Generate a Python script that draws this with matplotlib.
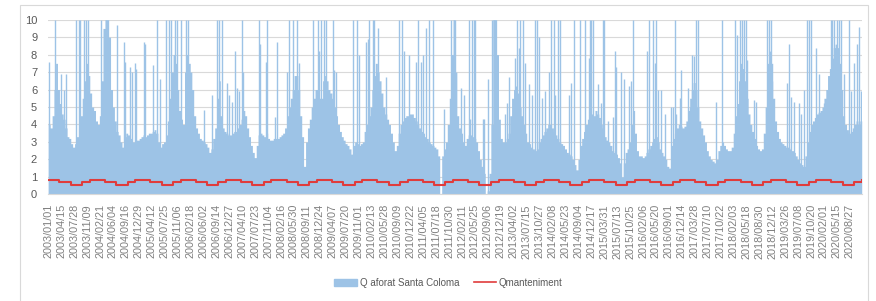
import pandas as pd
import matplotlib
matplotlib.use("Agg")
import matplotlib.pyplot as plt
import matplotlib.dates as mdates
from matplotlib.patches import Patch, Rectangle
from matplotlib.lines import Line2D

plt.rcParams["font.family"] = ["Liberation Sans", "DejaVu Sans"]

# flow level per half month (1st-15th, 16th-end)
q2003 = [4.0, 3.8, 4.5, 6.0, 7.5, 6.0, 5.2, 4.6, 4.3, 3.8, 3.3, 3.2, 2.9, 2.7, 2.9, 3.3, 3.8, 4.5, 5.5, 6.5, 7.5, 6.8, 5.8, 5.0]
q2004 = [4.8, 4.2, 4.0, 4.5, 6.5, 9.5, 10, 10, 9.0, 6.0, 5.0, 4.2, 3.6, 3.4, 3.0, 2.7, 3.3, 3.5, 3.4, 3.2, 3.0, 3.0, 3.1, 3.1]
q2005 = [3.2, 3.3, 3.4, 3.3, 3.4, 3.5, 3.5, 3.6, 3.7, 3.5, 3.0, 2.7, 2.9, 3.0, 3.4, 4.2, 5.5, 7.0, 8.0, 7.5, 6.0, 4.8, 4.3, 4.0]
q2006 = [7.0, 8.0, 7.5, 7.0, 6.0, 4.5, 3.8, 3.5, 3.2, 3.1, 3.0, 2.9, 2.7, 2.4, 2.6, 3.2, 3.8, 5.5, 6.5, 4.5, 3.8, 3.6, 3.5, 3.4]
q2007 = [3.4, 3.5, 3.6, 3.6, 3.8, 4.0, 4.3, 4.8, 4.5, 3.8, 3.3, 2.8, 2.4, 2.1, 2.8, 3.4, 3.5, 3.4, 3.3, 3.5, 3.2, 3.1, 3.1, 3.2]
q2008 = [3.2, 3.2, 3.3, 3.4, 3.5, 3.8, 4.5, 5.0, 5.5, 6.0, 6.8, 6.8, 6.0, 4.5, 3.3, 1.6, 3.0, 3.8, 4.3, 5.0, 5.5, 6.0, 6.0, 5.5]
q2009 = [5.5, 6.5, 6.8, 6.5, 6.0, 5.8, 5.5, 5.0, 4.5, 4.0, 3.6, 3.3, 3.1, 2.9, 2.8, 2.6, 2.3, 2.8, 3.0, 2.9, 2.8, 2.9, 3.0, 3.6]
q2010 = [4.0, 4.5, 5.0, 6.0, 6.8, 7.5, 7.0, 6.5, 5.8, 5.0, 4.6, 4.3, 4.0, 3.5, 3.0, 2.5, 2.8, 3.5, 4.0, 4.2, 4.4, 4.5, 4.5, 4.6]
q2011 = [4.6, 4.4, 4.2, 4.0, 3.8, 3.6, 3.5, 3.3, 3.2, 3.0, 2.9, 2.8, 2.7, 2.6, 2.2, 0.0, 2.2, 2.6, 3.0, 4.0, 5.5, 8.0, 10, 7.0]
q2012 = [4.5, 3.8, 3.5, 3.0, 2.8, 3.2, 3.4, 3.4, 3.3, 3.2, 3.0, 2.5, 2.0, 1.6, 1.2, 0.0, 0.2, 1.2, 4.0, 10, 10, 8.0, 4.3, 3.2]
q2013 = [3.0, 3.0, 3.2, 3.5, 4.5, 5.5, 6.0, 6.2, 5.8, 5.0, 4.5, 4.0, 3.5, 3.0, 2.9, 2.7, 2.6, 2.5, 2.6, 3.0, 3.2, 3.4, 3.6, 3.8]
q2014 = [4.0, 4.0, 3.8, 3.6, 3.4, 3.2, 3.0, 2.9, 2.8, 2.6, 2.4, 2.3, 2.2, 2.0, 1.7, 1.4, 2.0, 2.8, 3.2, 3.6, 4.0, 4.3, 4.5, 4.6]
q2015 = [4.5, 4.8, 4.6, 4.4, 4.0, 3.8, 3.3, 3.1, 3.0, 2.8, 2.5, 2.4, 2.3, 2.1, 1.8, 1.0, 1.8, 2.4, 2.6, 3.0, 4.0, 4.8, 3.5, 2.5]
q2016 = [2.2, 2.2, 2.1, 2.2, 2.4, 2.6, 2.8, 3.0, 3.2, 3.3, 3.0, 2.6, 2.4, 2.2, 2.0, 1.6, 1.5, 2.8, 3.2, 3.5, 3.8, 4.0, 3.9, 3.8]
q2017 = [3.9, 4.2, 4.8, 5.5, 6.0, 6.4, 6.0, 5.0, 4.2, 3.8, 3.4, 3.0, 2.5, 2.2, 2.0, 1.9, 1.8, 2.0, 2.5, 2.8, 3.0, 2.8, 2.6, 2.5]
q2018 = [2.5, 2.7, 3.5, 4.5, 5.2, 6.5, 7.5, 7.2, 6.5, 5.5, 4.6, 4.0, 3.6, 3.2, 2.8, 2.6, 2.5, 2.6, 3.5, 5.0, 7.5, 8.2, 7.5, 5.5]
q2019 = [4.2, 3.6, 3.2, 3.0, 2.9, 2.8, 2.7, 2.7, 2.6, 2.5, 2.4, 2.2, 2.0, 1.8, 1.7, 1.6, 2.2, 3.0, 3.6, 4.0, 4.2, 4.4, 4.6, 4.7]
q2020 = [4.8, 5.0, 5.5, 6.0, 6.8, 7.2, 7.8, 8.4, 8.6, 8.4, 7.5, 6.0, 4.5, 4.0, 3.7, 3.5, 3.6, 3.8, 4.0, 4.2, 4.0, 4.2]

years = list(range(2003, 2021))
yearly = [q2003, q2004, q2005, q2006, q2007, q2008, q2009, q2010, q2011,
          q2012, q2013, q2014, q2015, q2016, q2017, q2018, q2019, q2020]
last_day = "2020-12-01"

# single-day peaks (values above 10 are cut at the top of the axis)
spike_dates = [
    "2003-01-06", "2003-02-24", "2003-04-10", "2003-05-07", "2003-05-21", "2003-08-15", "2003-09-02",
    "2003-09-13", "2003-10-15", "2003-10-29", "2003-11-19",
    "2004-03-03", "2004-07-09", "2004-09-01", "2004-09-09", "2004-10-19", "2004-11-02", "2004-11-28",
    "2004-12-07",
    "2005-02-09", "2005-02-17", "2005-04-25", "2005-05-22", "2005-06-18", "2005-08-08", "2005-08-29",
    "2005-09-17", "2005-10-14", "2005-11-04", "2005-12-01",
    "2006-01-13", "2006-02-01", "2006-06-07", "2006-08-13", "2006-09-16", "2006-10-08", "2006-10-27",
    "2006-12-06", "2006-12-27",
    "2007-01-15", "2007-02-11", "2007-03-02", "2007-03-18", "2007-04-06", "2007-04-19", "2007-08-26",
    "2007-08-31", "2007-10-18", "2007-10-29", "2007-12-30",
    "2008-01-12", "2008-04-02", "2008-04-23", "2008-05-25", "2008-06-21", "2008-07-07", "2008-10-31",
    "2008-12-13", "2008-12-20",
    "2009-01-03", "2009-01-30", "2009-02-12", "2009-04-07", "2009-04-20", "2009-05-04", "2009-09-20",
    "2009-10-17", "2009-11-02", "2009-12-31",
    "2010-01-13", "2010-01-27", "2010-02-23", "2010-03-08", "2010-04-04", "2010-06-10", "2010-09-25",
    "2010-10-17", "2010-11-04", "2010-12-15",
    "2011-02-06", "2011-02-20", "2011-03-18", "2011-04-01", "2011-04-28", "2011-05-25", "2011-06-20",
    "2011-09-23", "2011-11-16", "2011-12-13",
    "2012-02-05", "2012-02-24", "2012-04-04", "2012-04-17", "2012-05-01", "2012-05-14", "2012-05-25",
    "2012-07-26", "2012-08-08", "2012-09-06", "2012-10-09", "2012-10-22",
    "2013-01-25", "2013-02-07", "2013-02-21", "2013-04-15", "2013-04-26", "2013-05-12", "2013-05-26",
    "2013-06-16", "2013-06-29", "2013-08-01", "2013-08-27", "2013-09-21", "2013-10-07", "2013-10-26",
    "2013-11-16", "2013-12-13",
    "2014-01-09", "2014-01-30", "2014-02-18", "2014-03-03", "2014-03-25", "2014-04-12", "2014-06-18",
    "2014-07-10", "2014-07-29", "2014-09-20", "2014-10-31", "2014-11-26", "2014-12-04", "2014-12-18",
    "2014-12-31",
    "2015-02-09", "2015-03-07", "2015-03-21", "2015-03-29", "2015-04-30", "2015-06-09", "2015-06-22",
    "2015-07-06", "2015-08-15", "2015-09-06", "2015-10-16", "2015-10-29", "2015-11-17",
    "2016-03-11", "2016-03-22", "2016-04-26", "2016-05-09", "2016-05-23", "2016-06-05", "2016-07-02",
    "2016-08-03", "2016-09-20", "2016-10-04", "2016-10-17", "2016-10-31", "2016-11-26", "2016-12-10",
    "2017-02-02", "2017-02-16", "2017-03-07", "2017-03-23", "2017-04-11", "2017-04-24", "2017-09-19",
    "2017-10-31",
    "2018-02-15", "2018-03-01", "2018-03-28", "2018-04-16", "2018-04-29", "2018-05-12", "2018-05-26",
    "2018-07-18", "2018-08-01", "2018-10-28", "2018-11-16", "2018-11-29", "2018-12-13",
    "2019-04-13", "2019-04-25", "2019-05-08", "2019-06-04", "2019-07-14", "2019-07-28", "2019-08-24",
    "2019-09-14", "2019-10-03", "2019-10-22", "2019-11-26", "2019-12-22",
    "2020-02-02", "2020-03-26", "2020-04-09", "2020-04-22", "2020-05-19", "2020-06-01", "2020-06-20",
    "2020-07-12", "2020-08-21", "2020-09-03", "2020-09-30", "2020-10-27", "2020-11-09", "2020-11-23",
]
spike_vals = [
    7.6, 10, 6.9, 6.0, 6.9, 10, 10, 10, 10, 10, 10,
    10, 9.7, 8.7, 7.6, 7.3, 7.0, 7.5, 7.2,
    8.7, 8.6, 7.4, 10, 6.6, 10, 10, 10, 10, 10, 10,
    10, 10, 4.8, 5.7, 10, 10, 10, 6.4, 5.7,
    5.3, 8.2, 6.1, 5.9, 10, 7.0, 10, 8.6, 7.6, 10, 4.4,
    8.7, 7.0, 10, 10, 10, 7.5, 10, 10, 8.2,
    10, 10, 10, 10, 7.1, 7.0, 10, 10, 8.0, 8.7,
    8.9, 10, 10, 10, 9.5, 6.7, 10, 10, 8.2, 8.0,
    7.6, 10, 7.6, 8.0, 9.5, 10, 10, 4.9, 10, 10,
    6.1, 5.7, 10, 4.3, 10, 10, 10, 4.3, 4.3, 6.6, 10, 10,
    4.6, 5.2, 6.7, 7.8, 10, 8.4, 10, 10, 7.5, 6.3, 5.7, 10, 10, 9.0, 5.5, 5.9,
    7.0, 10, 10, 5.7, 10, 10, 5.7, 6.4, 10, 10, 10, 7.8, 10, 10, 10,
    6.3, 5.2, 10, 10, 4.2, 4.4, 8.2, 7.3, 7.0, 6.6, 6.2, 6.5, 10,
    8.2, 10, 10, 7.5, 10, 6.0, 6.0, 4.6, 5.0, 5.0, 10, 4.6, 5.5, 7.1,
    6.1, 5.0, 8.0, 7.9, 10, 10, 5.3, 10,
    10, 9.1, 10, 10, 10, 10, 7.7, 5.4, 5.3, 10, 10, 10, 6.5,
    6.4, 8.6, 5.6, 5.3, 5.2, 4.6, 6.0, 10, 10, 10, 8.4, 6.9,
    5.2, 10, 10, 10, 10, 10, 10, 6.9, 10, 5.9, 7.5, 8.6, 9.6, 5.9,
]

# Qmanteniment by calendar month
qm_month = [0.84, 0.84, 0.84, 0.68, 0.68, 0.68, 0.56, 0.56, 0.56, 0.68, 0.68, 0.84]

# build half-month steps
starts, vals = [], []
for yr, qs in zip(years, yearly):
    for i, v in enumerate(qs):
        starts.append(pd.Timestamp(yr, i // 2 + 1, 1 if i % 2 == 0 else 16))
        vals.append(v)
xb = mdates.date2num(starts + [pd.Timestamp(last_day)])
yb = vals + [vals[-1]]

months = pd.date_range("2003-01-01", last_day, freq="MS")
xm = mdates.date2num(months)
ym = [qm_month[m.month - 1] for m in months]

xs = mdates.date2num(pd.to_datetime(spike_dates)) + 0.5

fig = plt.figure(figsize=(8.76, 3.01), dpi=100)
ax = fig.add_axes([0.0551, 0.3545, 0.9286, 0.5801])

blue = "#9dc3e6"
red = "#e03c3c"
ax.fill_between(xb, yb, step="post", color=blue, lw=0)
ax.vlines(xs, 0, spike_vals, color=blue, lw=1.0)
ax.step(xm, ym, where="post", color=red, lw=1.5)

x0 = mdates.date2num(pd.Timestamp("2003-01-01"))
ax.set_xlim(x0, mdates.date2num(pd.Timestamp(last_day)))
ax.set_ylim(0, 10)
ax.set_yticks(range(11))

ticks = pd.date_range("2003-01-01", "2020-08-27", freq="104D")
ax.set_xticks(mdates.date2num(ticks) + 0.5)
ax.set_xticklabels([t.strftime("%Y/%m/%d") for t in ticks], rotation=90,
                   fontsize=7.8, color="#808080")
ax.tick_params(axis="x", length=0, pad=7)
ax.tick_params(axis="y", length=0, pad=8, labelsize=8, labelcolor="#595959")

ax.grid(axis="y", color="#d9d9d9", lw=0.8)
ax.set_axisbelow(True)
for s in ["top", "right", "left"]:
    ax.spines[s].set_visible(False)
ax.spines["bottom"].set_color("#d9d9d9")

handles = [Patch(color=blue), Line2D([], [], color=red, lw=1.2)]
fig.legend(handles, ["Q aforat Santa Coloma", "Qmanteniment"], loc="center",
           bbox_to_anchor=(0.512, 0.06), ncol=2, frameon=False, fontsize=7,
           handlelength=2.3, handleheight=0.8, handletextpad=0.3, columnspacing=1.5,
           labelcolor="#595959")

fig.patches.append(Rectangle((0.0228, -0.01), 0.968, 0.993, transform=fig.transFigure,
                             fill=False, edgecolor="#d9d9d9", lw=0.8))

fig.savefig("out.png", dpi=100)
